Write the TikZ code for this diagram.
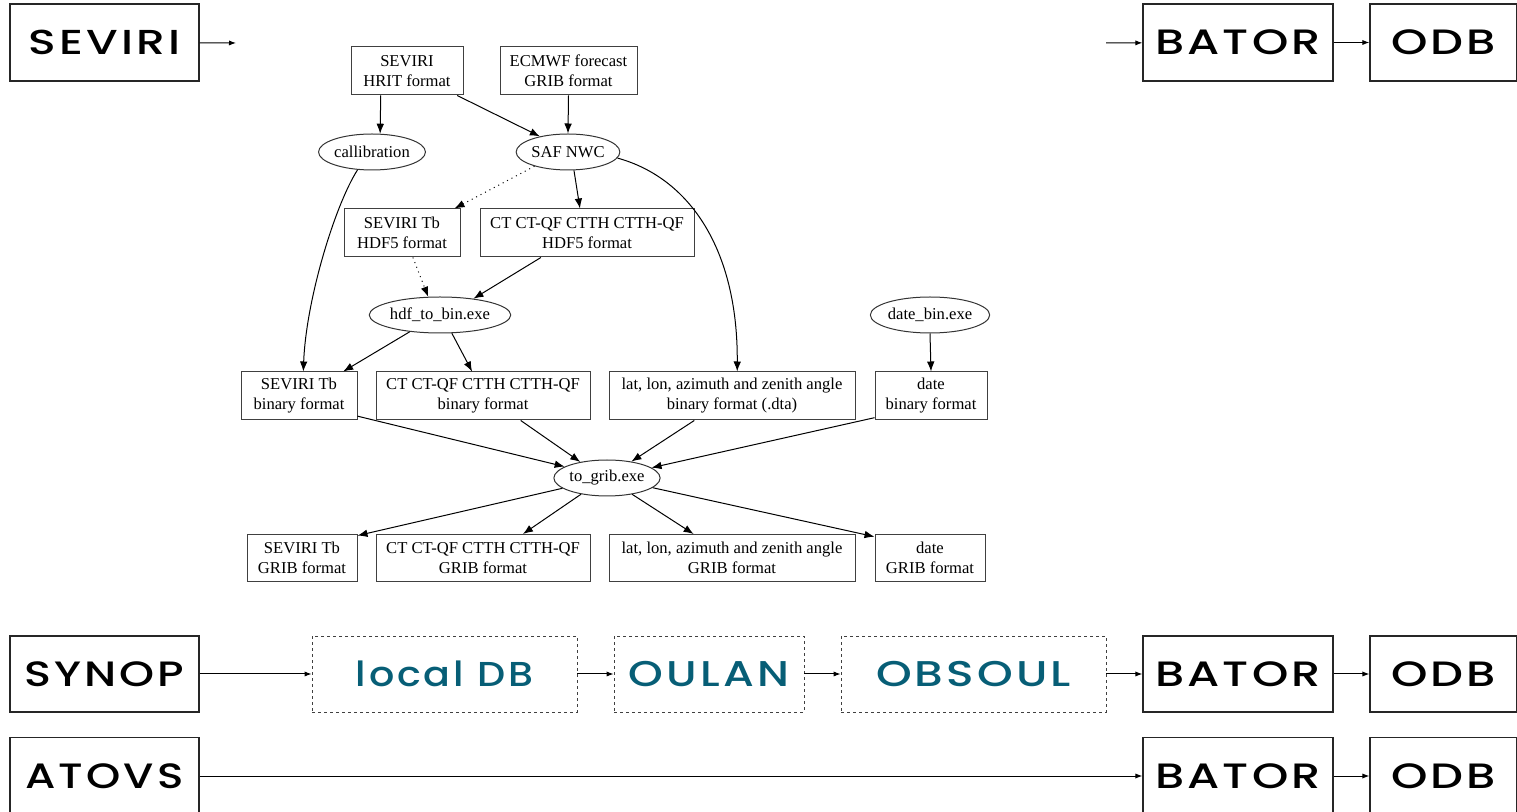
\documentclass[tikz,border=0pt]{standalone}
\usepackage{fontspec}
\usepackage{graphicx}
\setmainfont{Liberation Serif}
\newfontfamily\popf{Poppins}[BoldFont={* Medium}, LetterSpace=7]
\usetikzlibrary{arrows.meta,shapes.geometric}
\definecolor{dbteal}{HTML}{075E76}
\newcommand\bigtxt[3]{\resizebox{#1pt}{#2pt}{\popf\bfseries #3}}
\tikzset{
  bigbox/.style={draw=black!85, line width=0.6pt, inner sep=0pt, minimum height=38.5pt},
  dbox/.style={draw=black!75, dash pattern=on 1.5pt off 1.5pt, line width=0.45pt, inner sep=0pt, minimum height=38pt, text=dbteal},
  gbox/.style={draw=black!75, line width=0.5pt, inner sep=0pt, minimum height=24pt, align=center, font=\fontsize{8.3}{10}\selectfont},
  gell/.style={ellipse, draw=black!80, line width=0.5pt, inner sep=0pt, minimum height=18pt, font=\fontsize{8.3}{10}\selectfont},
  garr/.style={-{Latex[length=5pt,width=3.8pt]}, line width=0.5pt},
  gdot/.style={garr, dash pattern=on 0.5pt off 2pt},
  barr/.style={-{Latex[length=3.5pt,width=2.6pt]}, line width=0.5pt}
}
\begin{document}
\begin{tikzpicture}[x=0.5pt,y=-0.5pt]
\useasboundingbox (0,0) rectangle (1517,812);
% big boxes, top row
\node[bigbox, minimum width=94.5pt] (sev) at (104.5,42.5) {\bigtxt{76}{12.2}{SEVIRI}};
\node[bigbox, minimum width=95pt] (bat1) at (1238,42.5) {\bigtxt{83}{12.4}{BATOR}};
\node[bigbox, minimum width=73.5pt] (odb1) at (1443.5,42.5) {\bigtxt{52.5}{12.4}{ODB}};
\coordinate (sevout) at (236,43);
\coordinate (batin) at (1106,43);
\draw[barr] (sev) -- (sevout);
\draw[barr] (batin) -- (bat1);
\draw[barr] (bat1) -- (odb1);
% SYNOP row
\node[bigbox, minimum width=94.5pt, minimum height=38pt] (syn) at (104.5,674) {\bigtxt{80}{12.4}{SYNOP}};
\node[dbox, minimum width=132.5pt] (ldb) at (444.5,674) {\bigtxt{88.5}{12.8}{local DB}};
\node[dbox, minimum width=95pt] (oul) at (709,674) {\bigtxt{80}{12.6}{OULAN}};
\node[dbox, minimum width=132.5pt] (obs) at (973.5,674) {\bigtxt{97.5}{12.6}{OBSOUL}};
\node[bigbox, minimum width=95pt, minimum height=38pt] (bat2) at (1238,674) {\bigtxt{83}{12.4}{BATOR}};
\node[bigbox, minimum width=73.5pt, minimum height=38pt] (odb2) at (1443.5,674) {\bigtxt{52.5}{12.4}{ODB}};
\draw[barr] (syn) -- (ldb);
\draw[barr] (ldb) -- (oul);
\draw[barr] (oul) -- (obs);
\draw[barr] (obs) -- (bat2);
\draw[barr] (bat2) -- (odb2);
% ATOVS row
\node[bigbox, minimum width=94.5pt] (ato) at (104.5,776) {\bigtxt{79}{12.4}{ATOVS}};
\node[bigbox, minimum width=95pt] (bat3) at (1238,776) {\bigtxt{83}{12.4}{BATOR}};
\node[bigbox, minimum width=73.5pt] (odb3) at (1443.5,776) {\bigtxt{52.5}{12.4}{ODB}};
\draw[barr] (ato) -- (bat3);
\draw[barr] (bat3) -- (odb3);
% graph
\node[gbox, minimum width=56pt] (hrit) at (407,71) {SEVIRI\\HRIT format};
\node[gbox, minimum width=68.5pt] (ecm) at (568.5,71) {ECMWF forecast\\GRIB format};
\node[gell, minimum width=52pt] (cal) at (372,152) {callibration};
\node[gell, minimum width=50.5pt] (saf) at (568,152) {SAF NWC};
\node[gbox, minimum width=58pt] (tbh) at (402,233) {SEVIRI Tb\\HDF5 format};
\node[gbox, minimum width=107pt] (cth) at (587,233) {CT CT-QF CTTH CTTH-QF\\HDF5 format};
\node[gell, minimum width=63.5pt] (hdf) at (440,315) {hdf\_to\_bin.exe};
\node[gell, minimum width=55pt] (dbe) at (930,315) {date\_bin.exe};
\node[gbox, minimum width=58pt] (tbb) at (299,396) {SEVIRI Tb\\binary format};
\node[gbox, minimum width=107pt] (ctb) at (483,396) {CT CT-QF CTTH CTTH-QF\\binary format};
\node[gbox, minimum width=123pt] (llb) at (732,396) {lat, lon, azimuth and zenith angle\\binary format (.dta)};
\node[gbox, minimum width=56pt] (dtb) at (931,396) {date\\binary format};
\node[gell, minimum width=51pt] (tog) at (607,478) {to\_grib.exe};
\node[gbox, minimum width=55pt, minimum height=23.5pt] (tbg) at (302,558) {SEVIRI Tb\\GRIB format};
\node[gbox, minimum width=107pt, minimum height=23.5pt] (ctg) at (483,558) {CT CT-QF CTTH CTTH-QF\\GRIB format};
\node[gbox, minimum width=123pt, minimum height=23.5pt] (llg) at (732,558) {lat, lon, azimuth and zenith angle\\GRIB format};
\node[gbox, minimum width=55pt, minimum height=23.5pt] (dtg) at (930,558) {date\\GRIB format};
% graph edges
\draw[garr] (hrit.223.8) -- (cal.66);
\draw[garr] (hrit.334.4) -- (saf.151.8);
\draw[garr] (ecm.south) -- (saf.north);
\draw[gdot] (saf.203.2) -- (tbh.25.6);
\draw[garr] (saf.288.4) -- (cth.106.3);
\draw[garr] (saf.353) .. controls (690,178) and (738,250) .. (llb.78);
\draw[garr] (cal.231.7) .. controls (335,205) and (306,300) .. (tbb.80.5);
\draw[gdot] (tbh.294.6) -- (hdf.123.7);
\draw[garr] (cth.208.6) -- (hdf.26.6);
\draw[garr] (hdf.209.5) -- (tbb.29.2);
\draw[garr] (hdf.303.7) -- (ctb.114.6);
\draw[garr] (dbe.south) -- (dtb.north);
\draw[garr] (tbb.341) -- (tog.165.6);
\draw[garr] (ctb.327) -- (tog.149.3);
\draw[garr] (llb.213) -- (tog.34.8);
\draw[garr] (dtb.201.4) -- (tog.13.4);
\draw[garr] (tog.193.4) -- (tbg.22.7);
\draw[garr] (tog.212.6) -- (ctg.31.9);
\draw[garr] (tog.327.4) -- (llg.148.1);
\draw[garr] (tog.348.7) -- (dtg.159);
\end{tikzpicture}
\end{document}
